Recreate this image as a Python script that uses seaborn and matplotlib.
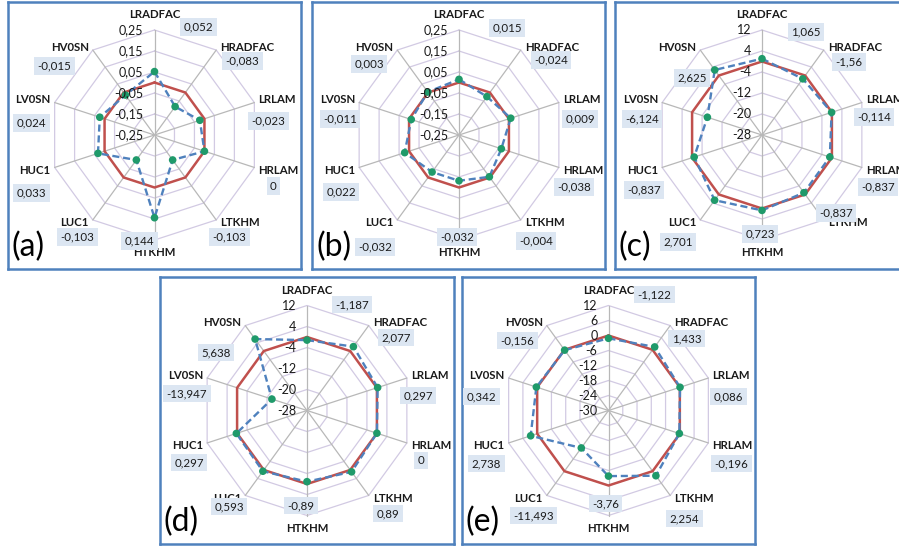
import numpy as np
import pandas as pd
import matplotlib
matplotlib.use("Agg")
import matplotlib.pyplot as plt
import seaborn as sns

# ---------------- data ----------------
categories = ["LRADFAC", "HRADFAC", "LRLAM", "HRLAM", "LTKHM",
              "HTKHM", "LUC1", "HUC1", "LV0SN", "HV0SN"]
panel_names = ["(a)", "(b)", "(c)", "(d)", "(e)"]

values_a = [0.052, -0.083, -0.023, 0, -0.103, 0.144, -0.103, 0.033, 0.024, -0.015]
values_b = [0.015, -0.024, 0.009, -0.038, -0.004, -0.032, -0.032, 0.022, -0.011, 0.003]
values_c = [1.065, -1.56, -0.114, -0.837, -0.837, 0.723, 2.701, -0.837, -6.124, 2.625]
values_d = [-1.187, 2.077, 0.297, 0, 0.89, -0.89, 0.593, 0.297, -13.947, 5.638]
values_e = [-1.122, 1.433, 0.086, -0.196, 2.254, -3.76, -11.493, 2.738, 0.342, -0.156]

ticks_ab = [0.25, 0.15, 0.05, -0.05, -0.15, -0.25]
ticks_cd = [12, 4, -4, -12, -20, -28]
ticks_e = [12, 6, 0, -6, -12, -18, -24, -30]
tick_labels_ab = ["0,25", "0,15", "0,05", "-0,05", "-0,15", "-0,25"]

baseline = 0

# ---------------- layout (pixels) ----------------
W, H = 899, 547
boxes = [(7.5, 1.5, 301, 269), (312, 1.5, 605, 269), (615, 1.5, 912, 269),
         (160, 277, 454, 544), (461.5, 277, 755, 544)]
R = 105
# value label box centres relative to the radar centre (x right, y down)
label_offsets = [
    [(44, -108), (88, -74), (114, -14), (119, 51), (75, 102), (-15, 106), (-77, 102), (-123, 58), (-123, -12), (-100, -69)],
    [(48, -107), (92, -75), (121, -16), (115, 52), (77, 106), (-2, 102), (-84, 112), (-118, 57), (-119, -16), (-90, -71)],
    [(44, -103), (87, -73), (112, -18), (116, 52), (74, 78), (-2, 99), (-84, 107), (-118, 55), (-120, -16), (-70, -57)],
    [(45, -106), (89, -73), (111, -15), (114, 50), (81, 103), (-6, 95), (-78, 96), (-118, 52), (-120, -17), (-91, -58)],
    [(46, -116), (78, -72), (120, -14), (123, 53), (76, 108), (-3, 93), (-75, 105), (-122, 53), (-127, -14), (-91, -70)],
]

BORDER = "#4f81bd"
RED = "#c0504d"
BLUE = "#4f81bd"
GREEN = "#1f9a6a"
RING = "#d2cae3"
SPOKE = "#b8b8b8"
LABEL_BG = "#dce6f2"
TXT = "#1a1a1a"

sns.set_theme(style="white")
plt.rcParams["font.family"] = ["Lato", "DejaVu Sans"]

fig = plt.figure(figsize=(W / 100, H / 100), dpi=100)

panels = [
    (values_a, ticks_ab, tick_labels_ab),
    (values_b, ticks_ab, tick_labels_ab),
    (values_c, ticks_cd, [str(t) for t in ticks_cd]),
    (values_d, ticks_cd, [str(t) for t in ticks_cd]),
    (values_e, ticks_e, [str(t) for t in ticks_e]),
]

n = len(categories)
angles = np.arange(n) * 2 * np.pi / n  # clockwise from top


def fmt(v):
    return ("%g" % v).replace(".", ",")


for p, (vals, ticks, tlabels) in enumerate(panels):
    x0, y0, x1, y1 = boxes[p]
    cx, cy = x0 + 147, y0 + 133.5
    ax = fig.add_axes([x0 / W, 1 - y1 / H, (x1 - x0) / W, (y1 - y0) / H])
    ax.set_xlim(x0 - cx, x1 - cx)
    ax.set_ylim(cy - y1, cy - y0)
    ax.set_xticks([])
    ax.set_yticks([])
    for s in ax.spines.values():
        s.set_color(BORDER)
        s.set_linewidth(1.8)
    ax.set_facecolor("white")

    vmin, vmax = min(ticks), max(ticks)

    def rad(v):
        return R * (np.asarray(v, dtype=float) - vmin) / (vmax - vmin)

    ux = np.round(np.sin(angles), 12)
    uy = np.round(np.cos(angles), 12)
    ux_c, uy_c = np.append(ux, ux[0]), np.append(uy, uy[0])

    # ring gridlines
    for t in ticks:
        if t == vmin:
            continue
        r = rad(t)
        ax.plot(r * ux_c, r * uy_c, color=RING, lw=0.9, zorder=1)
    # spokes
    for k in range(n):
        ax.plot([0, R * ux[k]], [0, R * uy[k]], color=SPOKE, lw=0.9, zorder=1)

    # baseline (red)
    rb = rad(np.full(n + 1, baseline))
    ax.plot(rb * ux_c, rb * uy_c, color=RED, lw=1.8, zorder=3,
            solid_joinstyle="miter")

    # values (blue dashed + green markers)
    rv = rad(vals)
    rv_c = np.append(rv, rv[0])
    ax.plot(rv_c * ux_c, rv_c * uy_c, color=BLUE, lw=1.7,
            linestyle=(0, (3, 1.6)), zorder=4)
    pt_df = pd.DataFrame({"x": rv * ux, "y": rv * uy, "cat": categories})
    sns.scatterplot(data=pt_df, x="x", y="y", color=GREEN, s=30,
                    edgecolor="none", ax=ax, zorder=5)
    ax.set_xlabel("")
    ax.set_ylabel("")

    # tick labels
    for t, tl in zip(ticks, tlabels):
        ax.text(-11, rad(t), tl, ha="right", va="center", fontsize=9,
                color=TXT, zorder=6)

    # category labels
    for k, c in enumerate(categories):
        vx, vy = R * ux[k], R * uy[k]
        kw = dict(fontsize=8.2, fontweight="bold", color=TXT, zorder=6)
        if k == 0:
            ax.text(0, vy + 15, c, ha="center", va="center", **kw)
        elif k == n // 2:
            ax.text(0, vy - 13, c, ha="center", va="center", **kw)
        else:
            ha = "left" if vx > 0 else "right"
            ax.text(vx + 4 * np.sign(vx), vy + 3 * np.sign(vy), c, ha=ha,
                    va="center", **kw)

    # value labels
    for k, v in enumerate(vals):
        dx, dy = label_offsets[p][k]
        ax.text(dx, -dy, fmt(v), ha="center", va="center", fontsize=8.3,
                color=TXT, zorder=7,
                bbox=dict(boxstyle="square,pad=0.3", fc=LABEL_BG, ec="none"))

    # panel letter
    ax.text(x0 + 4 - cx, cy - (y0 + 245), panel_names[p], ha="left",
            va="center", fontsize=23, color="black", zorder=7)

fig.savefig("out.png", dpi=100)
